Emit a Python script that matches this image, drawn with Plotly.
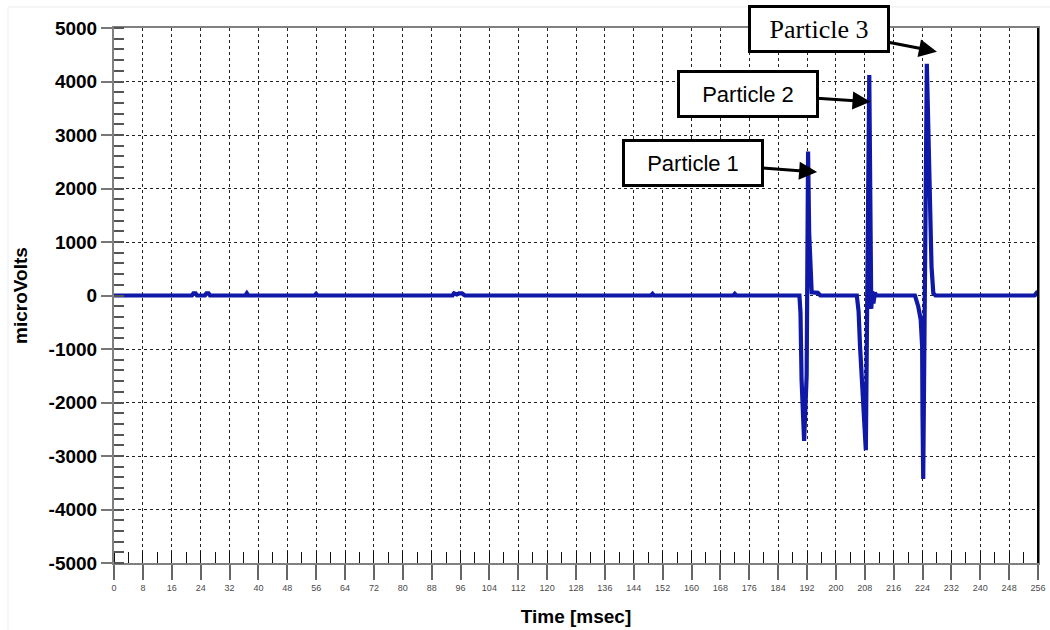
import plotly.graph_objects as go

# ---- data ----
time_ms = [0, 21.6, 22.0, 22.6, 23.0, 25.2, 25.6, 26.2, 26.6, 36.4, 36.8, 37.2,
           55.6, 56.0, 56.4, 93.8, 94.2, 95.0, 95.6, 96.4, 97.2, 148.8, 149.2, 149.6,
           171.6, 172.0, 172.4,
           189.9, 190.2, 190.5, 191.0, 191.2, 191.9, 192.3, 192.6, 193.0, 193.3, 195.0, 195.7,
           205.8, 206.3, 206.7, 207.6, 208.3, 209.25, 209.5, 209.8, 210.1, 210.4, 210.8, 211.2,
           221.9, 222.8, 223.5, 223.9, 224.0, 224.2, 225.2, 225.6, 226.1, 226.5, 227.0, 227.6,
           255.0, 255.5, 256]
micro_volts = [0, 0, 40, 40, 0, 0, 40, 40, 0, 0, 40, 0,
               0, 30, 0, 0, 40, 20, 40, 40, 0, 0, 30, 0,
               0, 30, 0,
               0, -330, -1580, -2390, -2720, -1500, 2690, 1160, 350, 60, 50, 0,
               0, -300, -960, -2200, -2890, 4120, 300, -250, 80, -150, 50, 0,
               0, -200, -450, -950, -2200, -3430, 4330, 2900, 1160, 540, 40, 0,
               0, 40, 0]

x_ticks = list(range(0, 257, 8))
y_ticks = list(range(-5000, 5001, 1000))

labels = ["Particle 1", "Particle 2", "Particle 3"]
label_x = [194.8, 209.6, 228.0]
label_y = [2308, 3622, 4557]
label_ax = [-124, -123, -118]
label_ay = [-9, -8, -23]
label_fonts = ["Liberation Sans Narrow, Arial Narrow, Liberation Sans, Arial",
               "Liberation Sans Narrow, Arial Narrow, Liberation Sans, Arial",
               "Liberation Serif, Times New Roman, serif"]
label_sizes = [22, 22, 26]

fig = go.Figure()
fig.add_trace(go.Scatter(x=time_ms, y=micro_volts, mode="lines",
                         line=dict(color="#1018a8", width=4.2),
                         hoverinfo="skip", showlegend=False))

for t, x, y, ax, ay, ff, fs in zip(labels, label_x, label_y, label_ax, label_ay,
                                   label_fonts, label_sizes):
    fig.add_annotation(x=x, y=y, xref="x", yref="y", text=t,
                       showarrow=True, ax=ax, ay=ay, axref="pixel", ayref="pixel",
                       arrowhead=2, arrowsize=1.2, arrowwidth=3, arrowcolor="black",
                       standoff=0, font=dict(family=ff, size=fs, color="black"),
                       bgcolor="white", bordercolor="black", borderwidth=3,
                       borderpad=0, width=136, height=42, align="center")

axis_common = dict(showgrid=True, gridcolor="#222222", griddash="dot", gridwidth=1,
                   zeroline=False, automargin=False)

fig.update_xaxes(range=[0, 256], tickmode="array", tickvals=x_ticks,
                 ticktext=[str(v) for v in x_ticks],
                 ticks="outside", ticklen=15, tickcolor="#666666", tickwidth=1.5,
                 tickfont=dict(family="Arial, Liberation Sans", size=9, color="#4a4a4a"),
                 showline=True, linecolor="#808080", linewidth=2, mirror=True,
                 minor=dict(ticks="inside", dtick=4, tick0=0, ticklen=11,
                            tickcolor="#111111", tickwidth=1.2, showgrid=False),
                 title=dict(text="Time [msec]", standoff=18,
                            font=dict(family="Arial, Liberation Sans", size=19,
                                      color="black", weight="bold")),
                 **axis_common)
fig.update_yaxes(range=[-5000, 5000], tickmode="array", tickvals=y_ticks,
                 ticktext=[str(v) for v in y_ticks],
                 ticks="outside", ticklen=11, tickcolor="#777777", tickwidth=1.5,
                 tickfont=dict(family="Arial, Liberation Sans", size=19, color="black",
                               weight="bold"),
                 showline=True, linecolor="#808080", linewidth=2, mirror=True,
                 minor=dict(ticks="inside", dtick=200, tick0=0, ticklen=10,
                            tickcolor="#555555", tickwidth=1.5, showgrid=False),
                 title=dict(text="microVolts", standoff=16,
                            font=dict(family="Arial, Liberation Sans", size=19,
                                      color="black", weight="bold")),
                 **axis_common)

# right frame line (black) and faint outer page frame
fig.add_shape(type="line", xref="paper", yref="paper", x0=1, x1=1, y0=0, y1=1,
              line=dict(color="black", width=2))
fig.add_shape(type="line", xref="paper", yref="paper", x0=-0.1147, x1=1.02,
              y0=1.0393, y1=1.0393, line=dict(color="#ececec", width=1))
fig.add_shape(type="line", xref="paper", yref="paper", x0=-0.1147, x1=-0.1147,
              y0=-0.13, y1=1.0393, line=dict(color="#ececec", width=1))

fig.update_layout(width=1050, height=630, autosize=False,
                  margin=dict(l=114, r=12, t=28, b=67),
                  paper_bgcolor="white", plot_bgcolor="white",
                  showlegend=False)

fig.write_html("out.html", config={"displayModeBar": False},
               post_script="document.body.style.margin='0px';")
